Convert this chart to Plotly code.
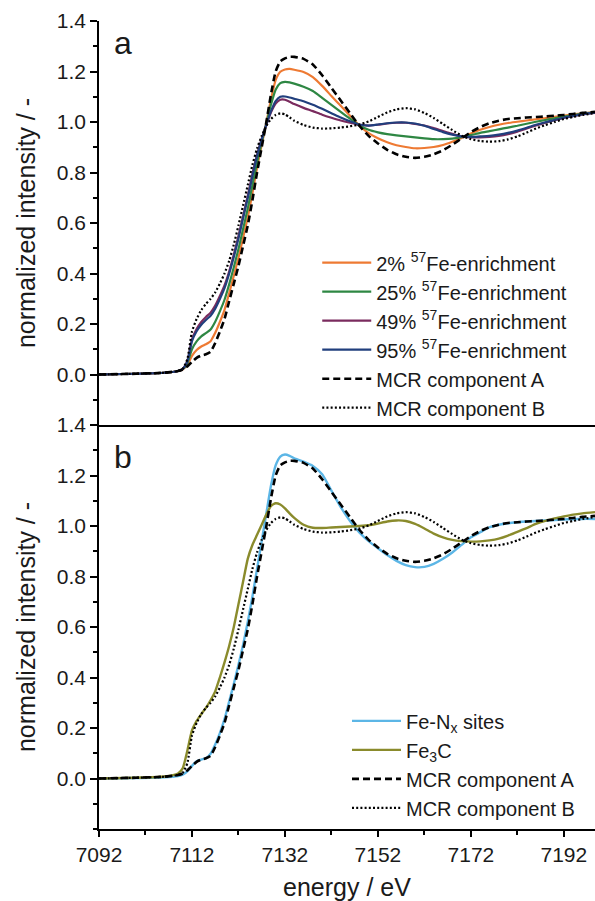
import plotly.graph_objects as go

# ---------------- data ----------------
energy = [7092, 7100, 7106, 7109, 7110, 7111, 7112, 7113, 7114, 7115, 7116, 7117, 7118,
          7119, 7120, 7121, 7122, 7123, 7124, 7125, 7126, 7127, 7128, 7129, 7130, 7131,
          7132, 7133, 7134, 7136, 7138, 7140, 7142, 7144, 7146, 7148, 7150, 7152, 7154,
          7156, 7158, 7160, 7162, 7164, 7166, 7168, 7170, 7172, 7174, 7176, 7178, 7180,
          7182, 7184, 7186, 7188, 7190, 7192, 7194, 7196, 7198.7]

mcr_a = [0.000, 0.003, 0.007, 0.014, 0.020, 0.032, 0.050, 0.066, 0.075, 0.080, 0.090, 0.125, 0.170,
         0.220, 0.290, 0.360, 0.430, 0.510, 0.590, 0.690, 0.800, 0.900, 1.000, 1.110, 1.200, 1.240,
         1.252, 1.258, 1.258, 1.250, 1.228, 1.185, 1.135, 1.085, 1.035, 0.985, 0.945, 0.915, 0.890,
         0.872, 0.862, 0.858, 0.862, 0.872, 0.888, 0.910, 0.935, 0.960, 0.980, 0.995, 1.005, 1.012,
         1.015, 1.018, 1.020, 1.022, 1.025, 1.028, 1.032, 1.036, 1.040]

mcr_b = [0.000, 0.003, 0.007, 0.014, 0.022, 0.060, 0.170, 0.220, 0.255, 0.280, 0.300, 0.325, 0.360,
         0.400, 0.450, 0.515, 0.590, 0.670, 0.750, 0.830, 0.895, 0.945, 0.985, 1.012, 1.028, 1.034,
         1.030, 1.018, 1.005, 0.988, 0.978, 0.974, 0.975, 0.978, 0.983, 0.990, 1.002, 1.020, 1.038,
         1.050, 1.055, 1.050, 1.036, 1.016, 0.992, 0.968, 0.946, 0.932, 0.925, 0.922, 0.924, 0.931,
         0.943, 0.958, 0.974, 0.988, 1.000, 1.012, 1.020, 1.028, 1.035]

enr_2 = [0.000, 0.003, 0.007, 0.014, 0.020, 0.038, 0.074, 0.097, 0.111, 0.120, 0.132, 0.165, 0.208,
         0.256, 0.322, 0.391, 0.462, 0.542, 0.622, 0.718, 0.819, 0.909, 0.997, 1.090, 1.166, 1.199,
         1.208, 1.210, 1.207, 1.198, 1.178, 1.143, 1.103, 1.064, 1.025, 0.986, 0.956, 0.936, 0.920,
         0.908, 0.901, 0.896, 0.897, 0.901, 0.909, 0.922, 0.937, 0.954, 0.969, 0.980, 0.989, 0.996,
         1.001, 1.006, 1.011, 1.015, 1.020, 1.025, 1.030, 1.034, 1.039]

enr_25 = [0.000, 0.003, 0.007, 0.014, 0.021, 0.044, 0.100, 0.131, 0.151, 0.164, 0.178, 0.209, 0.250,
          0.296, 0.357, 0.425, 0.497, 0.577, 0.657, 0.749, 0.840, 0.919, 0.994, 1.069, 1.128, 1.154,
          1.159, 1.157, 1.152, 1.140, 1.123, 1.096, 1.068, 1.040, 1.013, 0.987, 0.969, 0.959, 0.952,
          0.947, 0.943, 0.939, 0.935, 0.932, 0.932, 0.934, 0.940, 0.948, 0.957, 0.964, 0.971, 0.978,
          0.985, 0.993, 1.001, 1.008, 1.015, 1.021, 1.027, 1.033, 1.038]

enr_49 = [0.000, 0.003, 0.007, 0.014, 0.021, 0.053, 0.139, 0.180, 0.208, 0.228, 0.245, 0.273, 0.311,
          0.353, 0.408, 0.475, 0.548, 0.628, 0.708, 0.794, 0.870, 0.933, 0.989, 1.038, 1.073, 1.088,
          1.088, 1.080, 1.071, 1.056, 1.043, 1.029, 1.017, 1.006, 0.997, 0.989, 0.986, 0.989, 0.994,
          0.997, 0.997, 0.992, 0.986, 0.976, 0.964, 0.953, 0.943, 0.939, 0.939, 0.941, 0.945, 0.952,
          0.962, 0.974, 0.986, 0.997, 1.007, 1.016, 1.023, 1.030, 1.036]

enr_95 = [0.000, 0.003, 0.007, 0.014, 0.021, 0.051, 0.132, 0.171, 0.197, 0.216, 0.233, 0.261, 0.299,
          0.342, 0.399, 0.465, 0.539, 0.619, 0.699, 0.785, 0.865, 0.931, 0.990, 1.043, 1.083, 1.100,
          1.101, 1.097, 1.092, 1.082, 1.068, 1.052, 1.035, 1.018, 1.003, 0.990, 0.986, 0.990, 0.995,
          0.998, 0.998, 0.994, 0.985, 0.972, 0.960, 0.950, 0.943, 0.941, 0.943, 0.945, 0.950, 0.957,
          0.966, 0.977, 0.989, 0.999, 1.008, 1.017, 1.024, 1.031, 1.037]

fe_nx = [0.000, 0.002, 0.005, 0.010, 0.015, 0.028, 0.050, 0.068, 0.075, 0.080, 0.098, 0.135, 0.180,
         0.235, 0.305, 0.375, 0.450, 0.530, 0.620, 0.720, 0.830, 0.940, 1.050, 1.160, 1.240, 1.275,
         1.283, 1.278, 1.268, 1.255, 1.238, 1.205, 1.140, 1.075, 1.020, 0.975, 0.940, 0.912, 0.885,
         0.862, 0.845, 0.837, 0.838, 0.850, 0.870, 0.895, 0.925, 0.955, 0.975, 0.995, 1.005, 1.011,
         1.015, 1.018, 1.020, 1.022, 1.024, 1.026, 1.027, 1.028, 1.028]

fe3c = [0.000, 0.003, 0.008, 0.020, 0.040, 0.110, 0.190, 0.228, 0.255, 0.280, 0.310, 0.345, 0.400,
        0.460, 0.525, 0.600, 0.690, 0.780, 0.870, 0.925, 0.965, 1.005, 1.045, 1.080, 1.090, 1.085,
        1.070, 1.050, 1.032, 1.005, 0.993, 0.992, 0.994, 0.996, 0.998, 1.000, 1.003, 1.010, 1.018,
        1.022, 1.020, 1.008, 0.990, 0.970, 0.955, 0.945, 0.940, 0.938, 0.939, 0.943, 0.950, 0.962,
        0.977, 0.992, 1.008, 1.020, 1.030, 1.038, 1.045, 1.050, 1.055]

top_names = ["2% <sup>57</sup>Fe-enrichment", "25% <sup>57</sup>Fe-enrichment",
             "49% <sup>57</sup>Fe-enrichment", "95% <sup>57</sup>Fe-enrichment"]
bottom_names = ["Fe-N<sub>x</sub> sites", "Fe<sub>3</sub>C"]
mcr_names = ["MCR component A", "MCR component B"]

x_range = [7092, 7198.7]
x_ticks = [7092, 7112, 7132, 7152, 7172, 7192]
y_range = [-0.2, 1.4]
y_ticks = [0.0, 0.2, 0.4, 0.6, 0.8, 1.0, 1.2, 1.4]
y_ticktext = ["0.0", "0.2", "0.4", "0.6", "0.8", "1.0", "1.2", "1.4"]

# ---------------- styles ----------------
FONT = "Liberation Sans, Arial, sans-serif"
top_colors = ["#EE7A33", "#2E8743", "#7A2B5E", "#213F7D"]
bottom_colors = ["#5CB6E6", "#8A8B2C"]
dash_a = "7px,4px"
dot_b = "2px,2.2px"

fig = go.Figure()

# top panel (a)
for name, vals, col in zip(top_names, [enr_2, enr_25, enr_49, enr_95], top_colors):
    fig.add_trace(go.Scatter(x=energy, y=vals, name=name, mode="lines",
                             line=dict(color=col, width=2.2, shape="spline", smoothing=0.5),
                             xaxis="x2", yaxis="y2", legend="legend"))
fig.add_trace(go.Scatter(x=energy, y=mcr_a, name=mcr_names[0], mode="lines",
                         line=dict(color="black", width=2.6, dash=dash_a, shape="spline", smoothing=0.5),
                         xaxis="x2", yaxis="y2", legend="legend"))
fig.add_trace(go.Scatter(x=energy, y=mcr_b, name=mcr_names[1], mode="lines",
                         line=dict(color="black", width=2.2, dash=dot_b, shape="spline", smoothing=0.5),
                         xaxis="x2", yaxis="y2", legend="legend"))

# bottom panel (b)
for name, vals, col in zip(bottom_names, [fe_nx, fe3c], bottom_colors):
    fig.add_trace(go.Scatter(x=energy, y=vals, name=name, mode="lines",
                             line=dict(color=col, width=2.4, shape="spline", smoothing=0.5),
                             xaxis="x", yaxis="y", legend="legend2"))
fig.add_trace(go.Scatter(x=energy, y=mcr_a, name=mcr_names[0], mode="lines",
                         line=dict(color="black", width=2.6, dash=dash_a, shape="spline", smoothing=0.5),
                         xaxis="x", yaxis="y", legend="legend2"))
fig.add_trace(go.Scatter(x=energy, y=mcr_b, name=mcr_names[1], mode="lines",
                         line=dict(color="black", width=2.2, dash=dot_b, shape="spline", smoothing=0.5),
                         xaxis="x", yaxis="y", legend="legend2"))

tickfont = dict(family=FONT, size=21, color="#1a1a1a")
titlefont = dict(family=FONT, size=25, color="#1a1a1a")
LW = 1.6

def xaxis_common():
    return dict(range=x_range, tickvals=x_ticks, showgrid=False, zeroline=False,
                showline=True, linecolor="black", linewidth=LW,
                tickcolor="black", tickwidth=LW, tickfont=tickfont, automargin=False)

def yaxis_common():
    return dict(range=y_range, tickvals=y_ticks, ticktext=y_ticktext, showgrid=False,
                zeroline=False, showline=True, linecolor="black", linewidth=LW,
                tickcolor="black", tickwidth=LW, tickfont=tickfont, automargin=False)

xa = xaxis_common()
xa.update(anchor="y", ticks="outside", ticklen=6,
          minor=dict(dtick=10, tick0=7092, ticks="outside", ticklen=4, tickcolor="black", tickwidth=LW),
          title=dict(text="energy / eV", font=titlefont, standoff=14))
xa2 = xaxis_common()
xa2.update(anchor="y2", ticks="", showticklabels=False)
xa3 = xaxis_common()
xa3.update(anchor="y2", overlaying="x2", side="top", ticks="inside", ticklen=7, showticklabels=False,
           minor=dict(dtick=10, tick0=7092, ticks="inside", ticklen=4, tickcolor="black", tickwidth=LW))
xa4 = xaxis_common()
xa4.update(anchor="y", overlaying="x", side="top", ticks="inside", ticklen=7, showticklabels=False,
           minor=dict(dtick=10, tick0=7092, ticks="inside", ticklen=4, tickcolor="black", tickwidth=LW))

ya = yaxis_common()
ya.update(domain=[0, 0.5], anchor="x", ticks="outside", ticklen=7,
          minor=dict(dtick=0.1, tick0=0, ticks="outside", ticklen=4, tickcolor="black", tickwidth=LW),
          title=dict(text="normalized intensity / -", font=titlefont, standoff=14))
ya2 = yaxis_common()
ya2.update(domain=[0.5, 1], anchor="x2", ticks="outside", ticklen=7,
           minor=dict(dtick=0.1, tick0=0, ticks="outside", ticklen=4, tickcolor="black", tickwidth=LW),
           title=dict(text="normalized intensity / -", font=titlefont, standoff=14))
ya3 = yaxis_common()
ya3.update(anchor="x2", overlaying="y2", side="right", ticks="inside", ticklen=7, showticklabels=False,
           showline=False,
           minor=dict(dtick=0.1, tick0=0, ticks="inside", ticklen=4, tickcolor="black", tickwidth=LW))
ya4 = yaxis_common()
ya4.update(anchor="x", overlaying="y", side="right", ticks="inside", ticklen=7, showticklabels=False,
           showline=False,
           minor=dict(dtick=0.1, tick0=0, ticks="inside", ticklen=4, tickcolor="black", tickwidth=LW))

legend_common = dict(xanchor="left", yanchor="top", bgcolor="rgba(0,0,0,0)",
                     font=dict(family=FONT, size=20, color="#1a1a1a"), tracegroupgap=0,
                     itemwidth=49)

fig.update_layout(
    width=595, height=901,
    margin=dict(l=99, r=0, t=21, b=72),
    paper_bgcolor="white", plot_bgcolor="white",
    font=dict(family=FONT, color="#1a1a1a"),
    xaxis=xa, xaxis2=xa2, xaxis3=xa3, xaxis4=xa4,
    yaxis=ya, yaxis2=ya2, yaxis3=ya3, yaxis4=ya4,
    legend=dict(x=0.44, y=0.725, **legend_common),
    legend2=dict(x=0.5, y=0.158, **legend_common),
    annotations=[
        dict(text="a", x=0.048, y=0.973, xref="paper", yref="paper", showarrow=False,
             font=dict(family=FONT, size=32, color="#1a1a1a"), xanchor="center", yanchor="middle"),
        dict(text="b", x=0.048, y=0.4604, xref="paper", yref="paper", showarrow=False,
             font=dict(family=FONT, size=32, color="#1a1a1a"), xanchor="center", yanchor="middle"),
    ],
)

fig.write_html("out.html")
